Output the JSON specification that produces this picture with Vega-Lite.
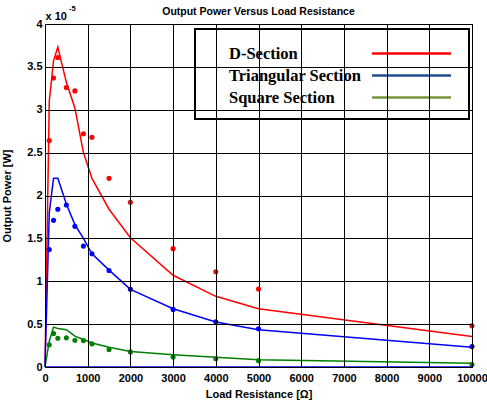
{
  "$schema": "https://vega.github.io/schema/vega-lite/v6.json",
  "width": 427,
  "height": 343,
  "autosize": {"type": "none"},
  "padding": {"left": 45, "top": 24, "right": 15, "bottom": 37},
  "background": "white",
  "title": {
    "text": "Output Power Versus Load Resistance",
    "font": "Liberation Sans",
    "fontSize": 10.5,
    "fontWeight": "bold",
    "color": "black",
    "anchor": "middle",
    "frame": "group",
    "baseline": "alphabetic",
    "offset": 3,
    "dy": 23
  },
  "datasets": {
    "model": [
      {"section": "D-Section", "resistance": 0, "power": 0},
      {"section": "D-Section", "resistance": 100, "power": 3.1},
      {"section": "D-Section", "resistance": 200, "power": 3.57},
      {"section": "D-Section", "resistance": 300, "power": 3.73},
      {"section": "D-Section", "resistance": 500, "power": 3.32},
      {"section": "D-Section", "resistance": 700, "power": 3.02},
      {"section": "D-Section", "resistance": 900, "power": 2.5},
      {"section": "D-Section", "resistance": 1100, "power": 2.2},
      {"section": "D-Section", "resistance": 1500, "power": 1.84},
      {"section": "D-Section", "resistance": 2000, "power": 1.507},
      {"section": "D-Section", "resistance": 3000, "power": 1.07},
      {"section": "D-Section", "resistance": 4000, "power": 0.824},
      {"section": "D-Section", "resistance": 5000, "power": 0.68},
      {"section": "D-Section", "resistance": 10000, "power": 0.355},
      {"section": "Triangular Section", "resistance": 0, "power": 0},
      {"section": "Triangular Section", "resistance": 100, "power": 1.8},
      {"section": "Triangular Section", "resistance": 200, "power": 2.2},
      {"section": "Triangular Section", "resistance": 300, "power": 2.2},
      {"section": "Triangular Section", "resistance": 500, "power": 1.9},
      {"section": "Triangular Section", "resistance": 700, "power": 1.66},
      {"section": "Triangular Section", "resistance": 900, "power": 1.5},
      {"section": "Triangular Section", "resistance": 1100, "power": 1.32},
      {"section": "Triangular Section", "resistance": 1500, "power": 1.13},
      {"section": "Triangular Section", "resistance": 2000, "power": 0.906},
      {"section": "Triangular Section", "resistance": 3000, "power": 0.68},
      {"section": "Triangular Section", "resistance": 4000, "power": 0.525},
      {"section": "Triangular Section", "resistance": 5000, "power": 0.434},
      {"section": "Triangular Section", "resistance": 10000, "power": 0.23},
      {"section": "Square Section", "resistance": 0, "power": 0},
      {"section": "Square Section", "resistance": 100, "power": 0.3},
      {"section": "Square Section", "resistance": 200, "power": 0.465},
      {"section": "Square Section", "resistance": 300, "power": 0.45},
      {"section": "Square Section", "resistance": 500, "power": 0.435},
      {"section": "Square Section", "resistance": 700, "power": 0.36},
      {"section": "Square Section", "resistance": 900, "power": 0.32},
      {"section": "Square Section", "resistance": 1100, "power": 0.28},
      {"section": "Square Section", "resistance": 1500, "power": 0.23},
      {"section": "Square Section", "resistance": 2000, "power": 0.18},
      {"section": "Square Section", "resistance": 3000, "power": 0.144},
      {"section": "Square Section", "resistance": 4000, "power": 0.113},
      {"section": "Square Section", "resistance": 5000, "power": 0.086},
      {"section": "Square Section", "resistance": 10000, "power": 0.043}
    ],
    "measured": [
      {"section": "D-Section", "resistance": 100, "power": 2.64},
      {"section": "D-Section", "resistance": 200, "power": 3.37},
      {"section": "D-Section", "resistance": 300, "power": 3.61},
      {"section": "D-Section", "resistance": 500, "power": 3.26},
      {"section": "D-Section", "resistance": 700, "power": 3.22},
      {"section": "D-Section", "resistance": 900, "power": 2.72},
      {"section": "D-Section", "resistance": 1100, "power": 2.68},
      {"section": "D-Section", "resistance": 1500, "power": 2.2},
      {"section": "D-Section", "resistance": 2000, "power": 1.92},
      {"section": "D-Section", "resistance": 3000, "power": 1.38},
      {"section": "D-Section", "resistance": 4000, "power": 1.11},
      {"section": "D-Section", "resistance": 5000, "power": 0.91},
      {"section": "D-Section", "resistance": 10000, "power": 0.48},
      {"section": "Triangular Section", "resistance": 100, "power": 1.37},
      {"section": "Triangular Section", "resistance": 200, "power": 1.71},
      {"section": "Triangular Section", "resistance": 300, "power": 1.84},
      {"section": "Triangular Section", "resistance": 500, "power": 1.89},
      {"section": "Triangular Section", "resistance": 700, "power": 1.64},
      {"section": "Triangular Section", "resistance": 900, "power": 1.41},
      {"section": "Triangular Section", "resistance": 1100, "power": 1.32},
      {"section": "Triangular Section", "resistance": 1500, "power": 1.125},
      {"section": "Triangular Section", "resistance": 2000, "power": 0.906},
      {"section": "Triangular Section", "resistance": 3000, "power": 0.672},
      {"section": "Triangular Section", "resistance": 4000, "power": 0.527},
      {"section": "Triangular Section", "resistance": 5000, "power": 0.445},
      {"section": "Triangular Section", "resistance": 10000, "power": 0.238},
      {"section": "Square Section", "resistance": 100, "power": 0.26},
      {"section": "Square Section", "resistance": 200, "power": 0.39},
      {"section": "Square Section", "resistance": 300, "power": 0.335},
      {"section": "Square Section", "resistance": 500, "power": 0.34},
      {"section": "Square Section", "resistance": 700, "power": 0.312},
      {"section": "Square Section", "resistance": 900, "power": 0.308},
      {"section": "Square Section", "resistance": 1100, "power": 0.27},
      {"section": "Square Section", "resistance": 1500, "power": 0.203},
      {"section": "Square Section", "resistance": 2000, "power": 0.176},
      {"section": "Square Section", "resistance": 3000, "power": 0.117},
      {"section": "Square Section", "resistance": 4000, "power": 0.097},
      {"section": "Square Section", "resistance": 5000, "power": 0.074},
      {"section": "Square Section", "resistance": 10000, "power": 0.03}
    ]
  },
  "config": {
    "view": {"stroke": "black", "strokeWidth": 1},
    "axis": {
      "labelFont": "Liberation Sans",
      "labelFontSize": 11,
      "labelFontWeight": "bold",
      "labelColor": "black",
      "titleFont": "Liberation Sans",
      "titleFontSize": 11,
      "titleFontWeight": "bold",
      "titleColor": "black"
    },
    "legend": {"strokeWidth": 2}
  },
  "layer": [
    {
      "data": {"name": "model"},
      "mark": {"type": "line", "strokeWidth": 1.5},
      "encoding": {
        "x": {
          "field": "resistance",
          "type": "quantitative",
          "scale": {"domain": [0, 10000], "nice": false},
          "axis": {
            "title": "Load Resistance [Ω]",
            "grid": true,
            "gridColor": "#000000",
            "gridOpacity": 1,
            "gridWidth": 1,
            "ticks": false,
            "domain": false,
            "zindex": 1,
            "values": [0, 1000, 2000, 3000, 4000, 5000, 6000, 7000, 8000, 9000, 10000],
            "format": "d",
            "labelPadding": 5,
            "titlePadding": 5,
            "labelOverlap": false,
            "labelBound": false,
            "labelFlush": false
          }
        },
        "y": {
          "field": "power",
          "type": "quantitative",
          "scale": {"domain": [0, 4], "nice": false},
          "axis": {
            "title": "Output Power [W]",
            "grid": true,
            "gridColor": "#000000",
            "gridOpacity": 1,
            "gridWidth": 1,
            "ticks": false,
            "domain": false,
            "zindex": 1,
            "values": [0, 0.5, 1, 1.5, 2, 2.5, 3, 3.5, 4],
            "format": "~g",
            "labelPadding": 3,
            "titlePadding": 14,
            "labelOverlap": false
          }
        },
        "color": {
          "field": "section",
          "type": "nominal",
          "scale": {
            "domain": ["D-Section", "Triangular Section", "Square Section"],
            "range": ["#ff0000", "#0000ff", "#008000"]
          },
          "legend": null
        }
      }
    },
    {
      "data": {"name": "measured"},
      "mark": {"type": "circle", "size": 26, "opacity": 1},
      "encoding": {
        "x": {"field": "resistance", "type": "quantitative"},
        "y": {"field": "power", "type": "quantitative"},
        "color": {
          "field": "section",
          "type": "nominal",
          "scale": {
            "domain": ["D-Section", "Triangular Section", "Square Section"],
            "range": ["#ff0000", "#0000ff", "#008000"]
          },
          "legend": null
        }
      }
    },
    {
      "data": {"values": [{"baseline": 0}]},
      "mark": {"type": "rule", "stroke": "#0000ff", "strokeWidth": 1.5},
      "encoding": {"y": {"field": "baseline", "type": "quantitative"}}
    },
    {
      "data": {"values": [{"resistance": 0, "power": 4}]},
      "mark": {"type": "text", "align": "left", "baseline": "alphabetic", "font": "Liberation Sans", "fontSize": 11, "fontWeight": "bold", "fill": "black", "dx": 0.5, "dy": -4},
      "encoding": {
        "x": {"field": "resistance", "type": "quantitative"},
        "y": {"field": "power", "type": "quantitative"},
        "text": {"value": "x 10"}
      }
    },
    {
      "data": {"values": [{"resistance": 0, "power": 4}]},
      "mark": {"type": "text", "align": "left", "baseline": "alphabetic", "font": "Liberation Sans", "fontSize": 7.5, "fontWeight": "bold", "fill": "black", "dx": 24, "dy": -13},
      "encoding": {
        "x": {"field": "resistance", "type": "quantitative"},
        "y": {"field": "power", "type": "quantitative"},
        "text": {"value": "-5"}
      }
    },
    {
      "data": {"name": "model"},
      "transform": [{"filter": "false"}],
      "mark": {"type": "line"},
      "encoding": {
        "x": {"field": "resistance", "type": "quantitative"},
        "y": {"field": "power", "type": "quantitative"},
        "color": {
          "field": "section",
          "type": "nominal",
          "scale": {
            "domain": ["D-Section", "Triangular Section", "Square Section"],
            "range": ["#ff0000", "#1f4e8c", "#77933c"]
          },
          "legend": {
            "title": null,
            "orient": "none",
            "legendX": 150,
            "legendY": 5,
            "direction": "vertical",
            "fillColor": "white",
            "strokeColor": "black",
            "padding": 13,
            "labelFont": "Liberation Serif",
            "labelFontSize": 16.5,
            "labelFontWeight": "bold",
            "labelColor": "black",
            "labelLimit": 300,
            "symbolType": "M-4,0H4",
            "symbolSize": 390,
            "symbolStrokeWidth": 2.5,
            "symbolOffset": 192,
            "labelOffset": -194,
            "rowPadding": 2
          }
        }
      }
    }
  ],
  "resolve": {"scale": {"color": "independent"}}
}
